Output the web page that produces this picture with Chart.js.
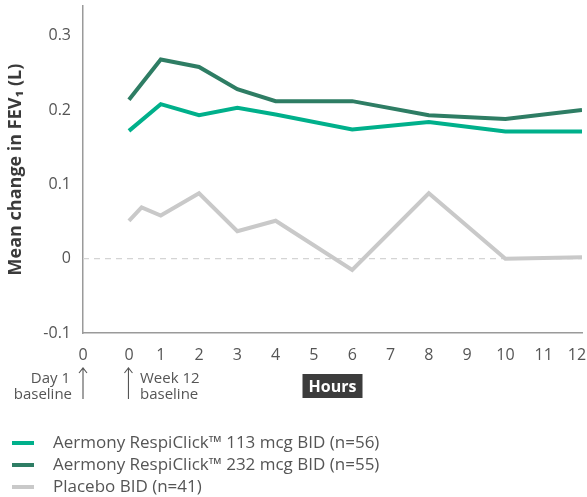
<!DOCTYPE html>
<html>
<head>
<meta charset="utf-8">
<script src="https://cdn.jsdelivr.net/npm/chart.js@4/dist/chart.umd.min.js"></script>
<style>
  html, body { margin: 0; padding: 0; background: #ffffff; }
  #wrap { width: 587px; height: 497px; position: relative; }
</style>
</head>
<body>
<div id="wrap"><canvas id="c" width="587" height="497"></canvas></div>
<script>
// ---- data ----
const seriesLabels = [
  'Aermony RespiClick\u2122 113 mcg BID (n=56)',
  'Aermony RespiClick\u2122 232 mcg BID (n=55)',
  'Placebo BID (n=41)'
];
const hoursActive  = [0.17, 1, 2, 3, 4, 6, 8, 10, 12];
const hoursPlacebo = [0.17, 0.5, 1, 2, 3, 4, 6, 8, 10, 12];
const fev113  = [0.172, 0.208, 0.193, 0.203, 0.194, 0.174, 0.184, 0.171, 0.171];
const fev232  = [0.214, 0.268, 0.258, 0.228, 0.212, 0.212, 0.193, 0.188, 0.200];
const fevPlacebo = [0.051, 0.069, 0.058, 0.088, 0.037, 0.051, -0.015, 0.088, 0.000, 0.002];
// x tick positions (hours) and their labels; first is the Day 1 baseline
const xTickValues = [-1.03, 0.17, 1, 2, 3, 4, 5, 6, 7, 8, 9, 10, 11, 11.87];
const xTickLabels = ['0', '0', '1', '2', '3', '4', '5', '6', '7', '8', '9', '10', '11', '12'];
const yTickValues = [-0.1, 0, 0.1, 0.2, 0.3];
const yTickLabels = ['-0.1', '0', '0.1', '0.2', '0.3'];

const colors = ['#00b08b', '#2e7d64', '#c9c9c9'];
const FONT = '"Open Sans", sans-serif';
const TEXT = '#555555';

const toPts = (xs, ys) => xs.map((x, i) => ({ x: x, y: ys[i] }));

const extras = {
  id: 'extras',
  beforeDraw(chart) {
    const ctx = chart.ctx;
    const xs = chart.scales.x;
    const cx = (xs.left + xs.right) / 2;
    const cy = 386;
    ctx.save();
    ctx.fillStyle = '#3c3c3c';
    ctx.fillRect(cx - 30, cy - 12, 60, 24);
    ctx.restore();
  },
  beforeDatasetsDraw(chart) {
    const ctx = chart.ctx;
    const ys = chart.scales.y;
    const a = chart.chartArea;
    const y0 = ys.getPixelForValue(0);
    ctx.save();
    ctx.strokeStyle = '#d4d4d4';
    ctx.lineWidth = 1.2;
    ctx.setLineDash([6, 5]);
    ctx.beginPath();
    ctx.moveTo(a.left, y0);
    ctx.lineTo(a.right, y0);
    ctx.stroke();
    ctx.restore();
  },
  afterDraw(chart) {
    const ctx = chart.ctx;
    const xs = chart.scales.x;
    ctx.save();
    ctx.fillStyle = TEXT;
    ctx.font = '15px ' + FONT;
    ctx.textBaseline = 'middle';
    ctx.textAlign = 'right';
    ctx.fillText('Day 1', 70, 379);
    ctx.fillText('baseline', 72, 395);
    ctx.textAlign = 'left';
    ctx.fillText('Week 12', 140, 379);
    ctx.fillText('baseline', 140, 395);
    const arrow = (x) => {
      ctx.strokeStyle = '#555';
      ctx.lineWidth = 1.1;
      ctx.beginPath();
      ctx.moveTo(x, 399); ctx.lineTo(x, 368);
      ctx.moveTo(x - 4, 373); ctx.lineTo(x, 368); ctx.lineTo(x + 4, 373);
      ctx.stroke();
    };
    arrow(xs.getPixelForValue(xTickValues[0]));
    arrow(xs.getPixelForValue(xTickValues[1]) - 0.5);
    chart.data.datasets.forEach((ds, i) => {
      const y = 443 + 22 * i;
      ctx.strokeStyle = ds.borderColor;
      ctx.lineWidth = 4;
      ctx.beginPath();
      ctx.moveTo(12, y); ctx.lineTo(34, y);
      ctx.stroke();
      ctx.fillStyle = TEXT;
      ctx.font = '17px ' + FONT;
      ctx.textAlign = 'left';
      ctx.textBaseline = 'middle';
      ctx.fillText(ds.label, 53, y);
    });
    ctx.restore();
  }
};

new Chart(document.getElementById('c'), {
  type: 'line',
  data: {
    datasets: [
      { label: seriesLabels[0], data: toPts(hoursActive, fev113), borderColor: colors[0], backgroundColor: colors[0] },
      { label: seriesLabels[1], data: toPts(hoursActive, fev232), borderColor: colors[1], backgroundColor: colors[1] },
      { label: seriesLabels[2], data: toPts(hoursPlacebo, fevPlacebo), borderColor: colors[2], backgroundColor: colors[2] }
    ]
  },
  options: {
    responsive: false,
    animation: false,
    devicePixelRatio: 1,
    layout: { padding: { top: 6, right: 5, bottom: 94, left: 0 } },
    elements: {
      line: { borderWidth: 4, tension: 0, borderJoinStyle: 'miter', borderCapStyle: 'butt' },
      point: { radius: 0, hoverRadius: 0 }
    },
    plugins: { legend: { display: false }, tooltip: { enabled: false } },
    scales: {
      x: {
        type: 'linear',
        min: -1.03,
        max: 12,
        afterBuildTicks: (s) => { s.ticks = xTickValues.map(v => ({ value: v })); },
        afterFit: (s) => { s.height = 70; s.paddingLeft = 0; s.paddingRight = 0; },
        ticks: {
          autoSkip: false,
          maxRotation: 0,
          padding: 13,
          color: TEXT,
          font: { family: FONT, size: 16 },
          callback: (v, i) => xTickLabels[i]
        },
        grid: { display: false, drawTicks: false },
        border: { color: '#9a9a9a', width: 1.5 },
        title: {
          display: true,
          text: 'Hours',
          color: '#ffffff',
          font: { family: FONT, size: 16, weight: 'bold' },
          padding: { top: 0, bottom: 6 }
        }
      },
      y: {
        type: 'linear',
        min: -0.1,
        max: 0.34,
        afterBuildTicks: (s) => { s.ticks = yTickValues.map(v => ({ value: v })); },
        afterFit: (s) => { s.width = 83; s.paddingTop = 0; s.paddingBottom = 0; },
        ticks: {
          padding: 12,
          color: TEXT,
          font: { family: FONT, size: 16 },
          callback: (v, i) => yTickLabels[i]
        },
        grid: { display: false, drawTicks: false },
        border: { color: '#9a9a9a', width: 1.5 },
        title: {
          display: true,
          text: 'Mean change in FEV\u2081 (L)',
          color: '#3a3a3a',
          font: { family: FONT, size: 18, weight: 'bold' },
          padding: { top: 5, bottom: 0 }
        }
      }
    }
  },
  plugins: [extras]
});
</script>
</body>
</html>
